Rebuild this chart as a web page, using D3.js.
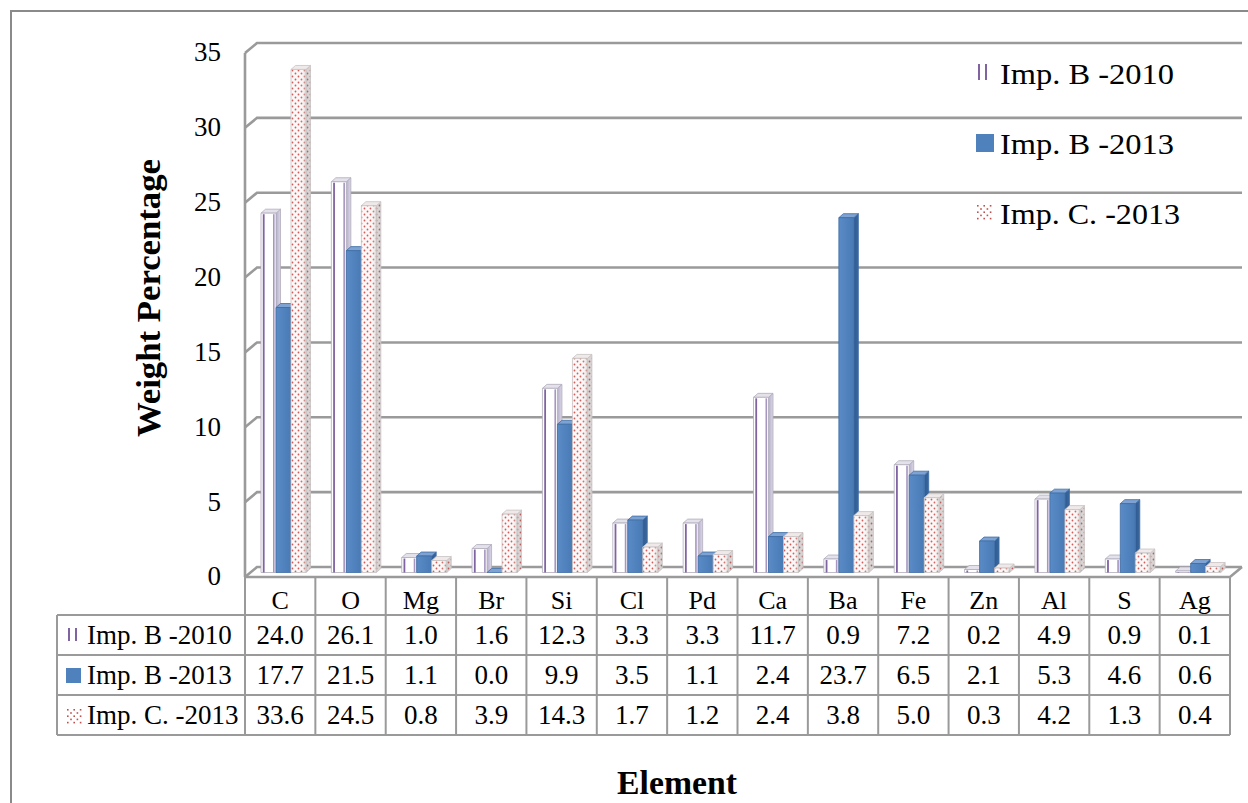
<!DOCTYPE html>
<html>
<head>
<meta charset="utf-8">
<script src="https://cdn.jsdelivr.net/npm/d3@7"></script>
<style>
  html, body { margin: 0; padding: 0; background: #fff; }
  svg { display: block; }
  text { font-family: "Liberation Serif", "Times New Roman", serif; fill: #000; }
</style>
</head>
<body>
<script>
// Elemental composition (weight %) of three impurity samples
const categories = ["C", "O", "Mg", "Br", "Si", "Cl", "Pd", "Ca", "Ba", "Fe", "Zn", "Al", "S", "Ag"];
const seriesNames = ["Imp. B -2010", "Imp. B -2013", "Imp. C. -2013"];
const impB2010 = [24.0, 26.1, 1.0, 1.6, 12.3, 3.3, 3.3, 11.7, 0.9, 7.2, 0.2, 4.9, 0.9, 0.1];
const impB2013 = [17.7, 21.5, 1.1, 0.0, 9.9, 3.5, 1.1, 2.4, 23.7, 6.5, 2.1, 5.3, 4.6, 0.6];
const impC2013 = [33.6, 24.5, 0.8, 3.9, 14.3, 1.7, 1.2, 2.4, 3.8, 5.0, 0.3, 4.2, 1.3, 0.4];
const yTicks = [0, 5, 10, 15, 20, 25, 30, 35];

const seriesValues = [impB2010, impB2013, impC2013];

const W = 1248, H = 803;
const svg = d3.select("body").append("svg").attr("width", W).attr("height", H);
const defs = svg.append("defs");

// ---- patterns and gradients ----
const dots = defs.append("pattern").attr("id", "dots")
  .attr("patternUnits", "userSpaceOnUse").attr("width", 6).attr("height", 6);
dots.append("rect").attr("width", 6).attr("height", 6).attr("fill", "#fdf7f7");
dots.append("circle").attr("cx", 1.5).attr("cy", 1.5).attr("r", 0.9).attr("fill", "#c9605c");
dots.append("circle").attr("cx", 4.5).attr("cy", 4.5).attr("r", 0.9).attr("fill", "#c9605c");

const dotsSide = defs.append("pattern").attr("id", "dotsSide")
  .attr("patternUnits", "userSpaceOnUse").attr("width", 6).attr("height", 6);
dotsSide.append("rect").attr("width", 6).attr("height", 6).attr("fill", "#d9d4d4");
dotsSide.append("circle").attr("cx", 1.5).attr("cy", 1.5).attr("r", 0.9).attr("fill", "#b86060");
dotsSide.append("circle").attr("cx", 4.5).attr("cy", 4.5).attr("r", 0.9).attr("fill", "#b86060");

function hGrad(id, stops) {
  const g = defs.append("linearGradient").attr("id", id)
    .attr("x1", "0%").attr("x2", "100%").attr("y1", "0%").attr("y2", "0%");
  stops.forEach(s => g.append("stop").attr("offset", s[0]).attr("stop-color", s[1]).attr("stop-opacity", s[2] == null ? 1 : s[2]));
}
hGrad("blueFront", [["0%", "#5a8bc6"], ["60%", "#4f81bd"], ["100%", "#4a7ab3"]]);
hGrad("blueSide", [["0%", "#2f5b91"], ["100%", "#3a679e"]]);
hGrad("shadeFront", [["0%", "#ffffff", 0], ["65%", "#ffffff", 0], ["100%", "#bdbdbd", 0.55]]);
hGrad("lavSide", [["0%", "#b5aecb"], ["100%", "#dcd8e6"]]);

// ---- scales ----
const x = d3.scaleBand().domain(categories).range([245, 1230]);
const xs = d3.scaleBand().domain(seriesNames).range([16, 61]);
const y = d3.scaleLinear().domain([0, 35]).range([567, 43]);

const DX = 12, DY = -10;     // wall depth: front edge -> back wall
const BX = 4.5, BY = -4;     // bar depth
const BAR_DROP = 5.5;        // bar front plane relative to back wall
const xRight = x.range()[1];

// ---- outer chart border ----
svg.append("path")
  .attr("d", `M11,${H + 5} L11,11 L${W + 5},11`)
  .attr("fill", "none").attr("stroke", "#8a8a8a").attr("stroke-width", 2);

// ---- walls, gridlines and floor ----
const grid = svg.append("g").attr("fill", "none").attr("stroke", "#9a9a9a").attr("stroke-width", 2.6);
yTicks.forEach(t => {
  grid.append("path")
    .attr("d", `M${x.range()[0]},${y(t) - DY} L${x.range()[0] + DX},${y(t)} L${xRight + DX},${y(t)}`);
});
grid.append("line")
  .attr("x1", x.range()[0]).attr("x2", x.range()[0])
  .attr("y1", y(35) - DY).attr("y2", y(0) - DY);
grid.append("path")
  .attr("d", `M${x.range()[0]},${y(0) - DY} L${xRight},${y(0) - DY} L${xRight + DX},${y(0)}`);

// ---- y tick labels ----
svg.append("g").selectAll("text").data(yTicks).join("text")
  .attr("x", 221).attr("y", d => y(d) + 9).attr("dy", "0.35em")
  .attr("text-anchor", "end").attr("font-size", 27)
  .text(d => d);

// ---- bars ----
const styles = [
  { front: "#ffffff", side: "url(#lavSide)", top: "#e4e1ea", stroke: "#b0acbb" },
  { front: "url(#blueFront)", side: "url(#blueSide)", top: "#7ea2d2", stroke: "#3e6da6" },
  { front: "url(#dots)", side: "url(#dotsSide)", top: "#efe9e9", stroke: "#c8c2c2" }
];
const bw = xs.bandwidth();

const bars = svg.append("g");
categories.forEach((cat, ci) => {
  seriesNames.forEach((s, si) => {
    const v = seriesValues[si][ci];
    const bx = x(cat) + xs(s);
    const yt = y(v) + BAR_DROP, yb = y(0) + BAR_DROP;
    const st = styles[si];
    const g = bars.append("g").attr("stroke", st.stroke).attr("stroke-width", 0.8).attr("stroke-linejoin", "round");
    // side face
    g.append("path").attr("fill", st.side)
      .attr("d", `M${bx + bw},${yt} L${bx + bw + BX},${yt + BY} L${bx + bw + BX},${yb + BY} L${bx + bw},${yb} Z`);
    // top face
    g.append("path").attr("fill", st.top)
      .attr("d", `M${bx},${yt} L${bx + BX},${yt + BY} L${bx + bw + BX},${yt + BY} L${bx + bw},${yt} Z`);
    // front face
    if (yb - yt > 0.01) {
      g.append("rect").attr("x", bx).attr("y", yt).attr("width", bw).attr("height", yb - yt)
        .attr("fill", st.front);
      if (si === 0) {
        g.append("rect").attr("x", bx + 1.8).attr("y", yt + 1).attr("width", 1.8).attr("height", Math.max(0, yb - yt - 1))
          .attr("fill", "#8064a2").attr("stroke", "none");
        g.append("rect").attr("x", bx + bw - 3).attr("y", yt + 1).attr("width", 1.6).attr("height", Math.max(0, yb - yt - 1))
          .attr("fill", "#a696c0").attr("stroke", "none");
      }
      if (si === 2) {
        g.append("rect").attr("x", bx).attr("y", yt).attr("width", bw).attr("height", yb - yt)
          .attr("fill", "url(#shadeFront)").attr("stroke", "none");
      }
    }
  });
});

// ---- legend markers ----
function drawMarker(g, si, mx, my, size) {
  if (si === 0) {
    g.append("rect").attr("x", mx + 2).attr("y", my).attr("width", 2).attr("height", size).attr("fill", "#8064a2");
    g.append("rect").attr("x", mx + 9).attr("y", my).attr("width", 2).attr("height", size).attr("fill", "#8064a2");
  } else if (si === 1) {
    g.append("rect").attr("x", mx).attr("y", my).attr("width", size + 2).attr("height", size + 2).attr("fill", "#4f81bd");
  } else {
    const dg = g.append("g").attr("fill", "#c0504d");
    for (let r = 0; r < 5; r++) {
      for (let c = 0; c < 5; c++) {
        if ((r + c) % 2 === 0) {
          dg.append("rect").attr("x", mx + 1 + c * 3.2).attr("y", my + 1 + r * 3.2).attr("width", 1.6).attr("height", 1.6);
        }
      }
    }
  }
}

const legend = svg.append("g");
const legendY = [73, 143, 213];
const legendLen = [174, 174, 180];
seriesNames.forEach((s, si) => {
  drawMarker(legend, si, 976, legendY[si] - 9, 16);
  legend.append("text").attr("x", 1000).attr("y", legendY[si]).attr("dy", "0.35em")
    .attr("font-size", 30)
    .attr("textLength", legendLen[si]).attr("lengthAdjust", "spacingAndGlyphs")
    .text(s);
});

// ---- data table ----
const tableLeft = 57;
const headTop = y(0) - DY;
const rowLines = [615, 655, 695, 735];
const table = svg.append("g");
const tl = table.append("g").attr("stroke", "#9a9a9a").attr("stroke-width", 2).attr("fill", "none");
rowLines.forEach(ry => tl.append("line").attr("x1", tableLeft).attr("x2", xRight).attr("y1", ry).attr("y2", ry));
tl.append("line").attr("x1", tableLeft).attr("x2", tableLeft).attr("y1", rowLines[0]).attr("y2", rowLines[3]);
categories.forEach(c => tl.append("line").attr("x1", x(c)).attr("x2", x(c)).attr("y1", headTop).attr("y2", rowLines[3]));
tl.append("line").attr("x1", xRight).attr("x2", xRight).attr("y1", headTop).attr("y2", rowLines[3]);

table.append("g").selectAll("text").data(categories).join("text")
  .attr("x", d => x(d) + x.bandwidth() / 2).attr("y", 600).attr("dy", "0.35em")
  .attr("text-anchor", "middle").attr("font-size", 26).text(d => d);

const fmt = d3.format(".1f");
seriesNames.forEach((s, si) => {
  const cy = (rowLines[si] + rowLines[si + 1]) / 2;
  drawMarker(table, si, 66, cy - 7, 13);
  table.append("text").attr("x", 87).attr("y", cy).attr("dy", "0.35em").attr("font-size", 27).text(s);
  table.append("g").selectAll("text").data(seriesValues[si]).join("text")
    .attr("x", (d, i) => x(categories[i]) + x.bandwidth() / 2).attr("y", cy).attr("dy", "0.35em")
    .attr("text-anchor", "middle").attr("font-size", 27).text(d => fmt(d));
});

// ---- axis titles ----
svg.append("text")
  .attr("transform", "translate(148,298) rotate(-90)")
  .attr("text-anchor", "middle").attr("dy", "0.35em")
  .attr("font-size", 33).attr("font-weight", "bold")
  .attr("textLength", 278).attr("lengthAdjust", "spacingAndGlyphs")
  .text("Weight Percentage");

svg.append("text")
  .attr("x", 677).attr("y", 782).attr("dy", "0.35em")
  .attr("text-anchor", "middle")
  .attr("font-size", 33).attr("font-weight", "bold")
  .attr("textLength", 120).attr("lengthAdjust", "spacingAndGlyphs")
  .text("Element");
</script>
</body>
</html>
